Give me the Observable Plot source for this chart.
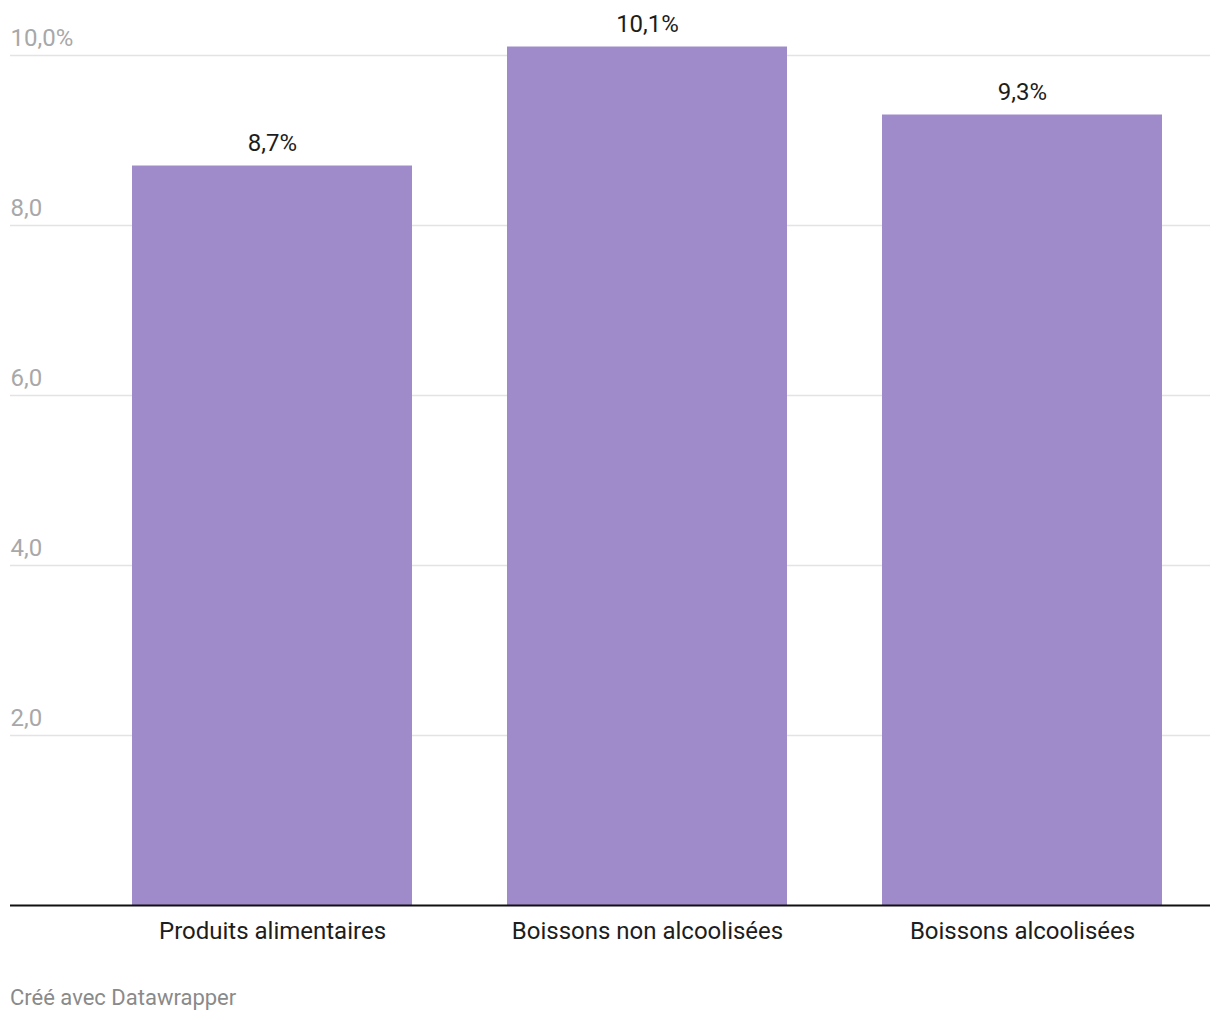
<!DOCTYPE html>
<html>
<head>
<meta charset="utf-8">
<script src="https://cdn.jsdelivr.net/npm/d3@7"></script>
<script src="https://cdn.jsdelivr.net/npm/@observablehq/plot@0.6"></script>
<style>
  body { margin: 0; background: #fff; font-family: Roboto, sans-serif; }
  #wrap { position: relative; width: 1220px; height: 1020px; }
  #footer { position: absolute; left: 10px; top: 985px; font-size: 22px; color: #8a8a8a; font-family: Roboto, sans-serif; }
</style>
</head>
<body>
<div id="wrap">
  <div id="chart"></div>
  <div id="footer">Créé avec Datawrapper</div>
</div>
<script>
const categories = ["Produits alimentaires", "Boissons non alcoolisées", "Boissons alcoolisées"];
const values = [8.7, 10.1, 9.3];
const yTicks = [2, 4, 6, 8, 10];
const yTickLabels = ["2,0", "4,0", "6,0", "8,0", "10,0%"];

const data = categories.map((c, i) => ({category: c, value: values[i]}));
const ticks = yTicks.map((t, i) => ({t, label: yTickLabels[i]}));
const fmt = v => v.toFixed(1).replace(".", ",") + "%";

const chart = Plot.plot({
  width: 1220,
  height: 960,
  marginTop: 55,
  marginBottom: 55,
  marginLeft: 10,
  marginRight: 10,
  style: {fontFamily: "Roboto, sans-serif", background: "#fff"},
  x: {domain: categories, range: [82.75, 1210], paddingInner: 0.254, paddingOuter: 0.127, label: null},
  y: {domain: [0, 10], label: null, axis: null},
  marks: [
    Plot.ruleY(ticks, {y: "t", stroke: "#e3e3e3", strokeWidth: 1.5}),
    Plot.text(ticks, {y: "t", text: "label", frameAnchor: "left", textAnchor: "start", dy: -17, fontSize: 24, fill: "#a8a8a8"}),
    Plot.barY(data, {x: "category", y: "value", fill: "#9f8bca"}),
    Plot.text(data, {x: "category", y: "value", text: d => fmt(d.value), dy: -23, fontSize: 24, fill: "#1d1d1d"}),
    Plot.ruleY([0], {stroke: "#111", strokeWidth: 2}),
    Plot.axisX({tickSize: 0, tickPadding: 16, fontSize: 24, color: "#1d1d1d", label: null})
  ]
});
document.getElementById("chart").appendChild(chart);
</script>
</body>
</html>
